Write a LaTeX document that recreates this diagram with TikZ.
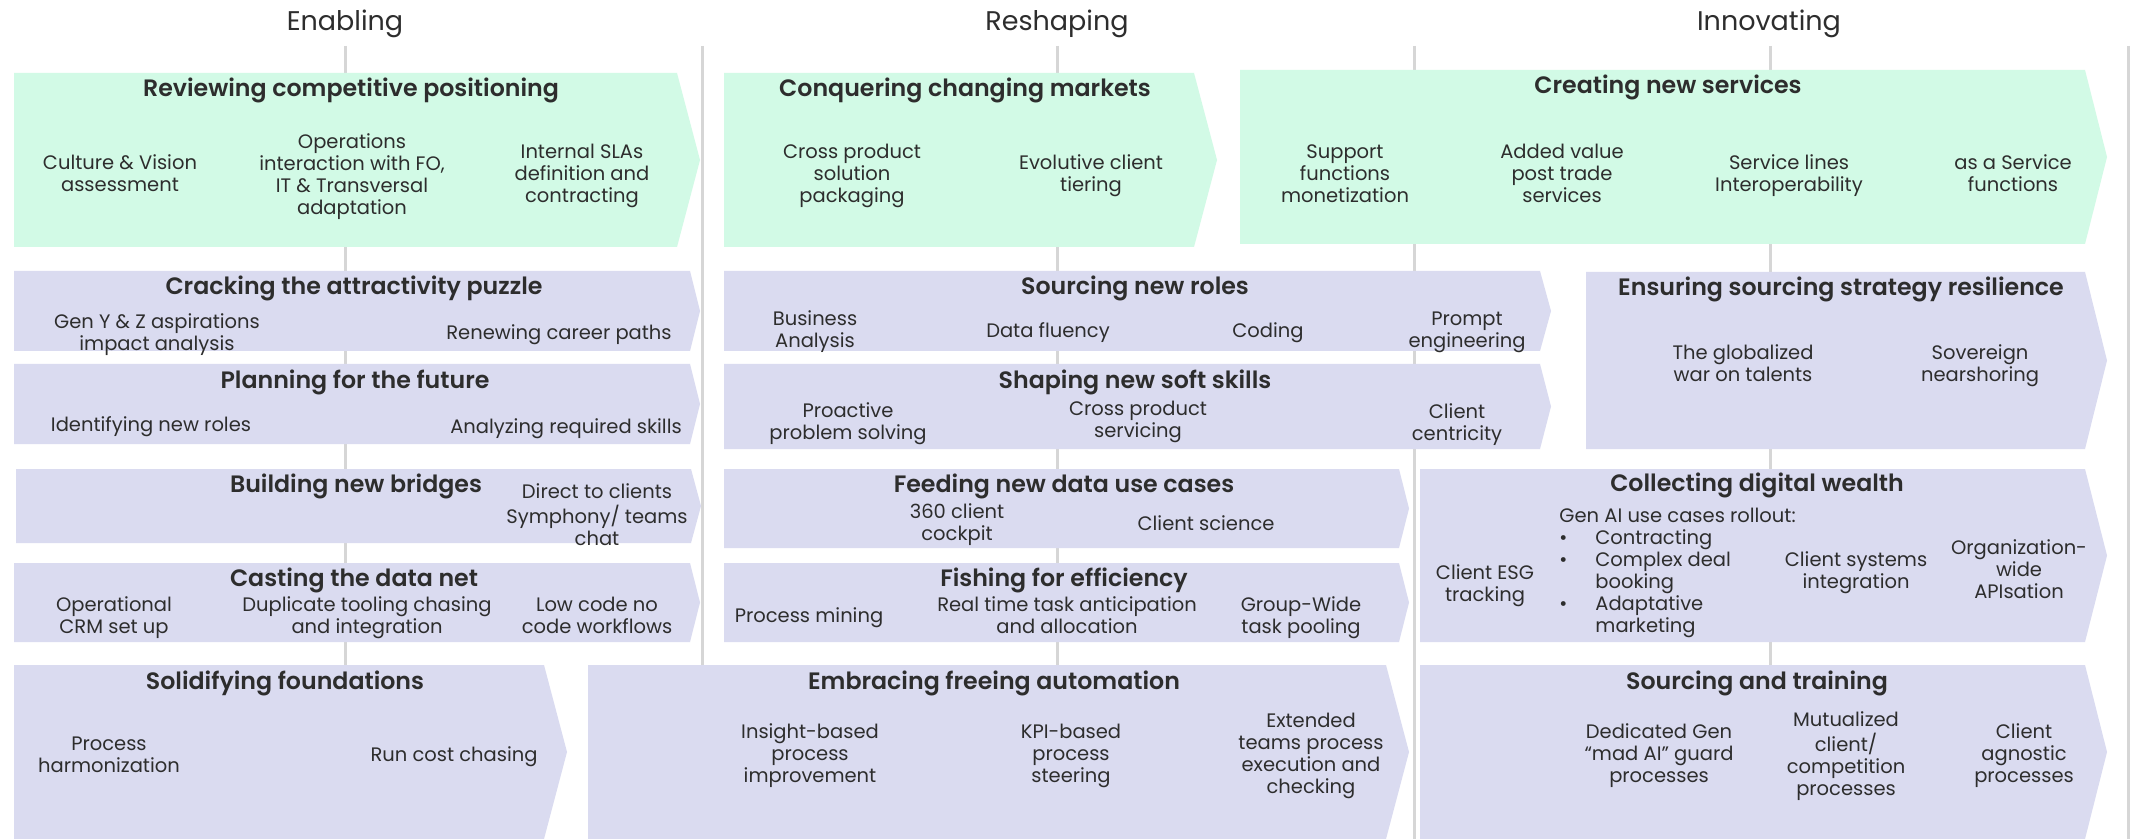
\documentclass[tikz,border=0pt]{standalone}
\usepackage{fontspec}
\setmainfont{Poppins}[BoldFont={Poppins SemiBold}]
\definecolor{mint}{RGB}{210,250,230}
\definecolor{lav}{RGB}{218,219,240}
\definecolor{ink}{RGB}{45,45,45}
\definecolor{rule}{RGB}{214,214,214}

% chevron-shaped panel: fill, left x, top y, bottom y, start of point, tip
\newcommand\chevbox[6]{%
  \fill[#1] (#2,#3) -- (#5,#3) -- (#6,{(#3+#4)/2}) -- (#5,#4) -- (#2,#4) -- cycle;}
% centred stack of lines with fixed line pitch
\newcommand\ml[1]{\begin{tabular}{@{}c@{}}#1\end{tabular}}

\tikzset{
  hdr/.style={font=\fontsize{13.5}{16}\selectfont, text=ink, inner sep=0pt,
              text height=9.45pt, text depth=0pt},
  ttl/.style={font=\bfseries\fontsize{11.85}{14}\selectfont, text=ink, inner sep=0pt,
              text height=8.3pt, text depth=0pt},
  itm/.style={font=\fontsize{9.75}{11}\selectfont, text=ink, inner sep=0pt, yshift=-1.2pt},
  guide/.style={draw=rule, line width=1.5pt},
}

\begin{document}
\begin{tikzpicture}[x=0.5pt,y=-0.5pt]
\useasboundingbox (0,0) rectangle (2134,839);
\fill[white] (0,0) rectangle (2134,839);

% column guides
\foreach \gx in {345,702,1057,1414,1770,2128}
  \draw[guide] (\gx,46) -- (\gx,839);

% column headers
\node[hdr] (hEnabling)   at (345,21)  {Enabling};
\node[hdr] (hReshaping)  at (1057,21) {Reshaping};
\node[hdr] (hInnovating) at (1769,21) {Innovating};

% top row (mint)
\chevbox{mint}{14}{73}{247}{677}{700}
\chevbox{mint}{724}{73}{247}{1194}{1217}
\chevbox{mint}{1240}{70}{244}{2085}{2107}

% enabling column
\chevbox{lav}{14}{271}{351}{690}{700}
\chevbox{lav}{14}{364}{444}{690}{700}
\chevbox{lav}{16}{469}{543}{691}{701}
\chevbox{lav}{14}{563}{642}{690}{700}
\chevbox{lav}{14}{665}{839}{544}{567}

% reshaping column
\chevbox{lav}{724}{271}{351}{1540}{1551}
\chevbox{lav}{724}{364}{449}{1540}{1551}
\chevbox{lav}{724}{469}{548}{1399}{1409}
\chevbox{lav}{724}{563}{642}{1399}{1409}
\chevbox{lav}{588}{665}{839}{1386}{1409}

% innovating column
\chevbox{lav}{1586}{272}{449}{2085}{2107}
\chevbox{lav}{1420}{469}{642}{2085}{2107}
\chevbox{lav}{1420}{665}{839}{2085}{2107}

% ---- Reviewing competitive positioning
\node[ttl] (tRev) at (351,88) {Reviewing competitive positioning};
\node[itm] (rev1) at (120,174) {\ml{Culture \& Vision\\assessment}};
\node[itm] (rev2) at (352,175) {\ml{Operations\\interaction with FO,\\IT \& Transversal\\adaptation}};
\node[itm] (rev3) at (582,174) {\ml{Internal SLAs\\definition and\\contracting}};

% ---- Conquering changing markets
\node[ttl] (tCon) at (965,88) {Conquering changing markets};
\node[itm] (con1) at (852,174) {\ml{Cross product\\solution\\packaging}};
\node[itm] (con2) at (1091,174) {\ml{Evolutive client\\tiering}};

% ---- Creating new services
\node[ttl] (tCre) at (1668,85) {Creating new services};
\node[itm] (cre1) at (1345,174) {\ml{Support\\functions\\monetization}};
\node[itm] (cre2) at (1562,174) {\ml{Added value\\post trade\\services}};
\node[itm] (cre3) at (1789,174) {\ml{Service lines\\Interoperability}};
\node[itm] (cre4) at (2013,174) {\ml{as a Service\\functions}};

% ---- Cracking the attractivity puzzle
\node[ttl] (tCra) at (354,286) {Cracking the attractivity puzzle};
\node[itm] (cra1) at (157,333) {\ml{Gen Y \& Z aspirations\\impact analysis}};
\node[itm] (cra2) at (559,333) {\ml{Renewing career paths}};

% ---- Planning for the future
\node[ttl] (tPla) at (355,380) {Planning for the future};
\node[itm] (pla1) at (151,425) {\ml{Identifying new roles}};
\node[itm] (pla2) at (566,427) {\ml{Analyzing required skills}};

% ---- Building new bridges
\node[ttl] (tBui) at (356,484) {Building new bridges};
\node[itm] (bui1) at (597,515) {\ml{Direct to clients\\Symphony/ teams\\chat}};

% ---- Casting the data net
\node[ttl] (tCas) at (354,578) {Casting the data net};
\node[itm] (cas1) at (114,616) {\ml{Operational\\CRM set up}};
\node[itm] (cas2) at (367,616) {\ml{Duplicate tooling chasing\\and integration}};
\node[itm] (cas3) at (597,616) {\ml{Low code no\\code workflows}};

% ---- Solidifying foundations
\node[ttl] (tSol) at (285,681) {Solidifying foundations};
\node[itm] (sol1) at (109,755) {\ml{Process\\harmonization}};
\node[itm] (sol2) at (454,755) {\ml{Run cost chasing}};

% ---- Sourcing new roles
\node[ttl] (tSou) at (1135,286) {Sourcing new roles};
\node[itm] (sou1) at (815,330) {\ml{Business\\Analysis}};
\node[itm] (sou2) at (1048,331) {\ml{Data fluency}};
\node[itm] (sou3) at (1268,331) {\ml{Coding}};
\node[itm] (sou4) at (1467,330) {\ml{Prompt\\engineering}};

% ---- Shaping new soft skills
\node[ttl] (tSha) at (1135,380) {Shaping new soft skills};
\node[itm] (sha1) at (848,422) {\ml{Proactive\\problem solving}};
\node[itm] (sha2) at (1138,420) {\ml{Cross product\\servicing}};
\node[itm] (sha3) at (1457,423) {\ml{Client\\centricity}};

% ---- Feeding new data use cases
\node[ttl] (tFee) at (1064,484) {Feeding new data use cases};
\node[itm] (fee1) at (957,523) {\ml{360 client\\cockpit}};
\node[itm] (fee2) at (1206,524) {\ml{Client science}};

% ---- Fishing for efficiency
\node[ttl] (tFis) at (1064,578) {Fishing for efficiency};
\node[itm] (fis1) at (809,616) {\ml{Process mining}};
\node[itm] (fis2) at (1067,616) {\ml{Real time task anticipation\\and allocation}};
\node[itm] (fis3) at (1301,616) {\ml{Group-Wide\\task pooling}};

% ---- Embracing freeing automation
\node[ttl] (tEmb) at (994,681) {Embracing freeing automation};
\node[itm] (emb1) at (810,754) {\ml{Insight-based\\process\\improvement}};
\node[itm] (emb2) at (1071,754) {\ml{KPI-based\\process\\steering}};
\node[itm] (emb3) at (1311,754) {\ml{Extended\\teams process\\execution and\\checking}};

% ---- Ensuring sourcing strategy resilience
\node[ttl] (tEns) at (1841,287) {Ensuring sourcing strategy resilience};
\node[itm] (ens1) at (1743,364) {\ml{The globalized\\war on talents}};
\node[itm] (ens2) at (1980,364) {\ml{Sovereign\\nearshoring}};

% ---- Collecting digital wealth
\node[ttl] (tCol) at (1757,483) {Collecting digital wealth};
\node[itm] (col1) at (1485,584) {\ml{Client ESG\\tracking}};
\node[itm, anchor=west] (col2) at (1559,571) {\begin{tabular}{@{}l@{}l@{}}
    \multicolumn{2}{@{}l@{}}{Gen AI use cases rollout:}\\
    \makebox[18pt][l]{\textbullet} & Contracting\\
    \makebox[18pt][l]{\textbullet} & Complex deal\\
     & booking\\
    \makebox[18pt][l]{\textbullet} & Adaptative\\
     & marketing
  \end{tabular}};
\node[itm] (col3) at (1856,571) {\ml{Client systems\\integration}};
\node[itm] (col4) at (2019,570) {\ml{Organization-\\wide\\APIsation}};

% ---- Sourcing and training
\node[ttl] (tSat) at (1757,681) {Sourcing and training};
\node[itm] (sat1) at (1659,754) {\ml{Dedicated Gen\\“mad AI” guard\\processes}};
\node[itm] (sat2) at (1846,754) {\ml{Mutualized\\client/\\competition\\processes}};
\node[itm] (sat3) at (2024,754) {\ml{Client\\agnostic\\processes}};
\end{tikzpicture}
\end{document}
